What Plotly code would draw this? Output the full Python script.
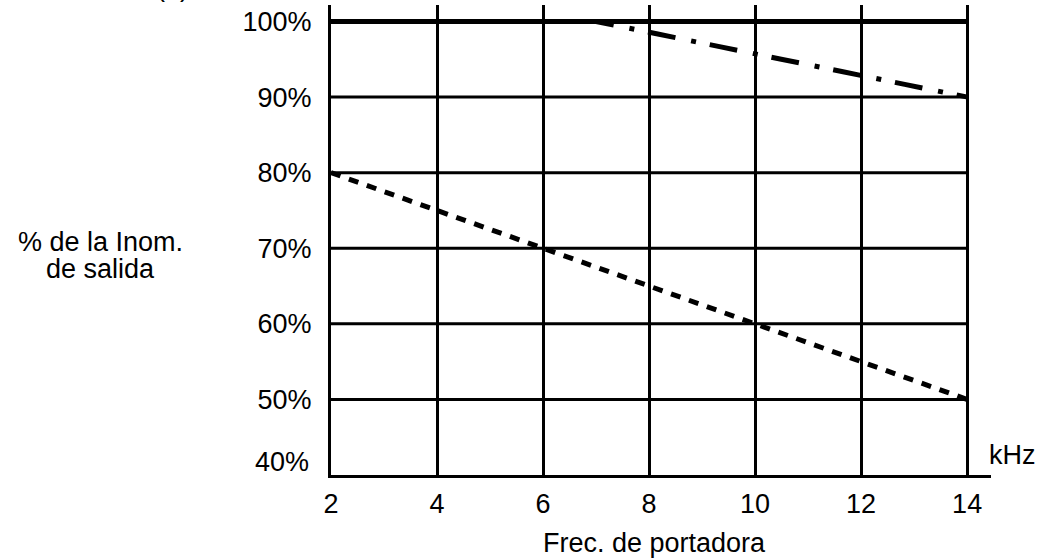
import plotly.graph_objects as go

# Carrier frequency (kHz) and output-current percentage axes
freq_ticks = [2, 4, 6, 8, 10, 12, 14]
pct_ticks = [40, 50, 60, 70, 80, 90, 100]
pct_labels = ["40%", "50%", "60%", "70%", "80%", "90%", "100%"]

# Derating curves
rated_x = [2, 14]
rated_y = [100, 100]
dashdot_x = [7, 14]
dashdot_y = [100, 90]
dotted_x = [2, 14]
dotted_y = [80, 50]

# Axis title lines
ylabel_lines = ["% de la Inom.", "de salida"]
xlabel = "Frec. de portadora"
xunit = "kHz"

FONT = "Liberation Sans, Arial, Helvetica, sans-serif"
FS = 27

fig = go.Figure()

# horizontal grid rows (stop at the last frequency tick)
for p in pct_ticks[1:-1]:
    fig.add_trace(go.Scatter(x=[freq_ticks[0], freq_ticks[-1]], y=[p, p], mode="lines",
                             line=dict(color="black", width=3), hoverinfo="skip",
                             showlegend=False))

fig.add_trace(go.Scatter(x=rated_x, y=rated_y, mode="lines",
                         line=dict(color="black", width=5), showlegend=False))
# long dash / short dot pattern, phased so a dash lands on the 14 kHz end
fig.add_trace(go.Scatter(x=dashdot_x, y=dashdot_y, mode="lines",
                         line=dict(color="black", width=5,
                                   dash="18px,16px,5px,14px,10px,0px"),
                         showlegend=False))
fig.add_trace(go.Scatter(x=dotted_x, y=dotted_y, mode="lines",
                         line=dict(color="black", width=5, dash="10px,9px"),
                         showlegend=False))

fig.update_xaxes(range=[2, 14.45], tickvals=freq_ticks, ticktext=[str(v) for v in freq_ticks],
                 showgrid=True, gridcolor="black", gridwidth=3, zeroline=False,
                 showline=True, linecolor="black", linewidth=3, ticks="",
                 ticklabelstandoff=3,
                 tickfont=dict(family=FONT, size=FS, color="black"))
fig.update_yaxes(range=[40, 102.18], tickvals=pct_ticks[1:], ticktext=pct_labels[1:],
                 showgrid=False, zeroline=False, showline=True, linecolor="black",
                 linewidth=3, ticks="", ticklabelstandoff=11,
                 tickfont=dict(family=FONT, size=FS, color="black"))

ann_font = dict(family=FONT, size=FS, color="black")
# lowest tick label sits just above the frequency axis line
fig.add_annotation(x=0, xref="paper", y=pct_ticks[0], yref="y", text=pct_labels[0],
                   xanchor="right", yanchor="middle", xshift=-20, yshift=13,
                   showarrow=False, font=ann_font)
# two-line y-axis title, centred at x≈100 px
for line_text, py in zip(ylabel_lines, [0.495, 0.438]):
    fig.add_annotation(x=-0.35, xref="paper", y=py, yref="paper", text=line_text,
                       xanchor="center", yanchor="middle", showarrow=False, font=ann_font)
fig.add_annotation(x=0.994, xref="paper", y=0.0426, yref="paper", text=xunit,
                   xanchor="left", yanchor="middle", showarrow=False, font=ann_font)
fig.add_annotation(x=0.49, xref="paper", y=-0.145, yref="paper", text=xlabel,
                   xanchor="center", yanchor="middle", showarrow=False, font=ann_font)
fig.add_annotation(x=-0.24, xref="paper", y=1, yref="paper", text="(a)",
                   xanchor="center", yanchor="bottom", yshift=1, showarrow=False,
                   font=ann_font)

fig.update_layout(width=1047, height=560, autosize=False,
                  margin=dict(l=331, r=56, t=5, b=85),
                  paper_bgcolor="white", plot_bgcolor="white")

fig.write_html("out.html")
